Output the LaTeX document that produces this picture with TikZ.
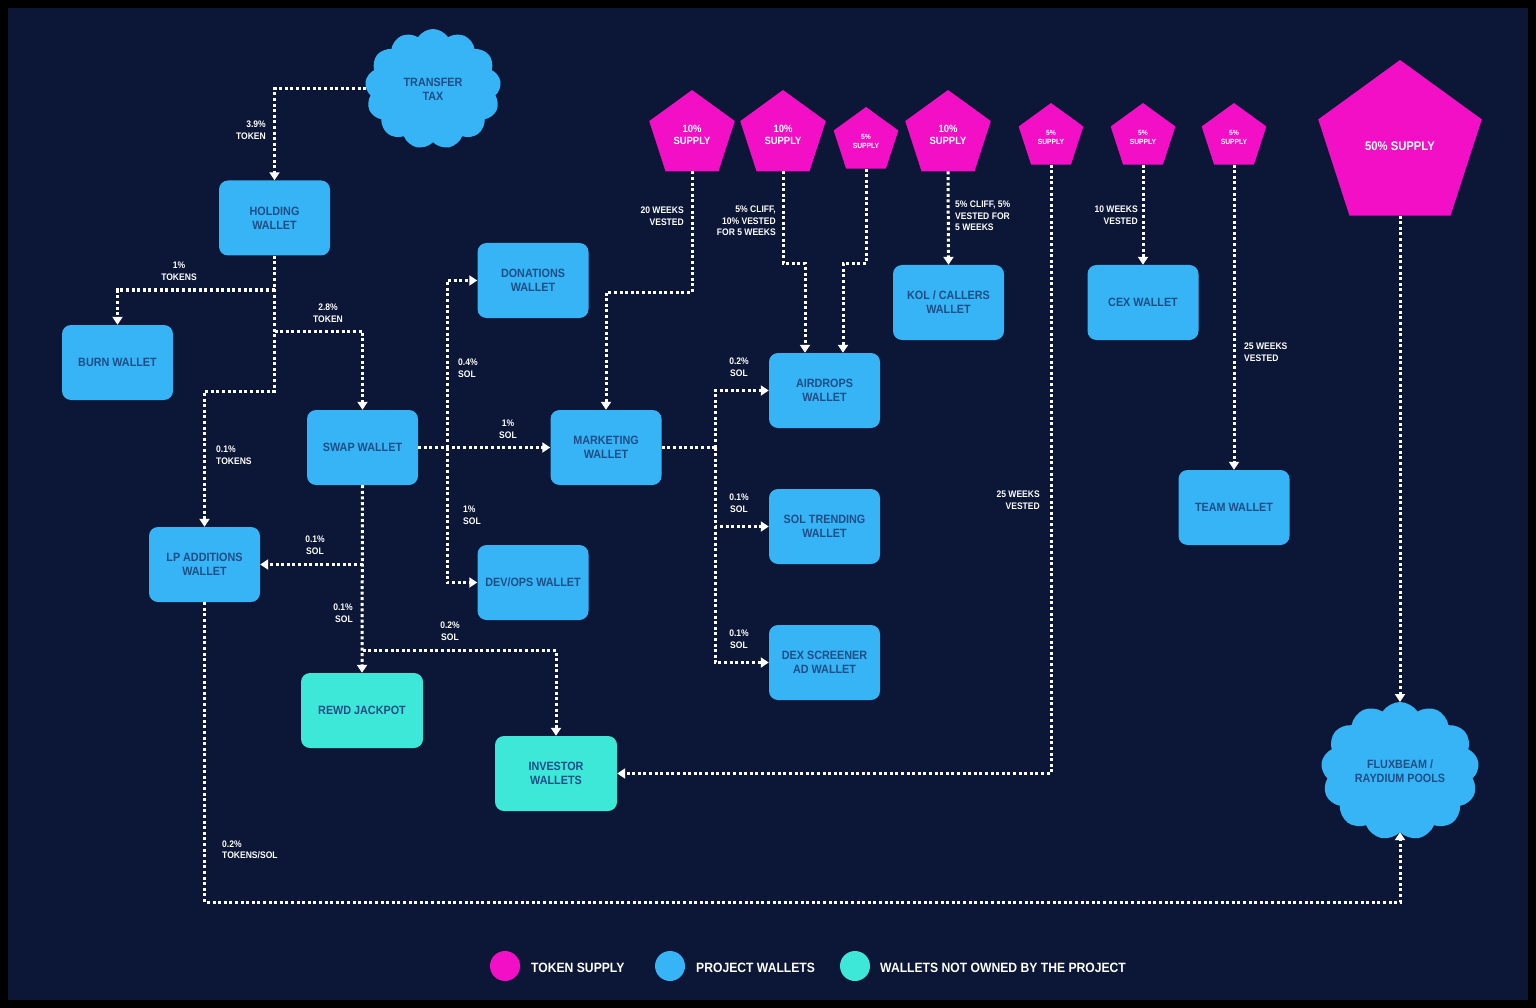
\documentclass[tikz,border=0pt]{standalone}
\usepackage{fontspec}
\usetikzlibrary{arrows.meta,shapes.geometric,shapes.symbols}
\newfontfamily\cf[FakeStretch=0.9]{Liberation Sans Bold}
\definecolor{bgnavy}{HTML}{0C1636}
\definecolor{pblue}{HTML}{36B4F6}
\definecolor{pteal}{HTML}{3DE8D9}
\definecolor{ppink}{HTML}{F20FC6}
\definecolor{boxtxt}{HTML}{1E4E86}
\tikzset{
  wallet/.style={rectangle, rounded corners=9pt, fill=pblue, minimum width=111pt, minimum height=75pt, inner sep=0pt, text=boxtxt, align=center, font=\cf\fontsize{12}{14}\selectfont},
  extwallet/.style={wallet, fill=pteal, minimum width=122pt},
  supply/.style={regular polygon, regular polygon sides=5, fill=ppink, inner sep=0pt, outer sep=0pt, text=white, align=center, font=\cf\fontsize{10.5}{12}\selectfont},
  smallsupply/.style={supply, font=\cf\fontsize{7.5}{9}\selectfont},
  pool/.style={cloud, cloud puffs=13, cloud puff arc=115, cloud ignores aspect, fill=pblue, inner sep=0pt, outer sep=0pt, text=boxtxt, align=center, font=\cf\fontsize{12}{14}\selectfont},
  flowline/.style={draw=white, line width=3pt, dash pattern=on 3pt off 2.6pt},
  flow/.style={flowline, -{Triangle[width=10pt,length=8pt]}},
  lbl/.style={text=white, inner sep=0pt, font=\cf\fontsize{9.5}{11.5}\selectfont},
  legdot/.style={circle, minimum size=30pt, inner sep=0pt},
  legtxt/.style={text=white, anchor=west, inner sep=0pt, font=\cf\fontsize{13.5}{15}\selectfont},
}
\begin{document}
\begin{tikzpicture}[x=1pt,y=-1pt]
\useasboundingbox (0,0) rectangle (1536,1008);
\fill[black] (0,0) rectangle (1536,1008);
\fill[bgnavy] (8,8) rectangle (1528,1000);

% supply pentagons
\node[supply, minimum size=90pt] (p1) at (692,135) {10\%\\SUPPLY};
\node[supply, minimum size=90pt] (p2) at (783,135) {10\%\\SUPPLY};
\node[smallsupply, minimum size=68pt] (p3) at (866,141) {5\%\\SUPPLY};
\node[supply, minimum size=90pt] (p4) at (948,135) {10\%\\SUPPLY};
\node[smallsupply, minimum size=68pt] (p5) at (1051,137) {5\%\\SUPPLY};
\node[smallsupply, minimum size=68pt] (p6) at (1143,137) {5\%\\SUPPLY};
\node[smallsupply, minimum size=68pt] (p7) at (1234,137) {5\%\\SUPPLY};
\node[supply, minimum size=172pt, font=\cf\fontsize{12.5}{14}\selectfont] (p8) at (1400,146) {50\% SUPPLY};

% clouds
\node[pool, minimum width=136pt, minimum height=120pt] (tt) at (433,89) {TRANSFER\\TAX};
\node[pool, minimum width=158pt, minimum height=138pt] (fb) at (1400,771) {FLUXBEAM /\\RAYDIUM POOLS};

% wallets
\node[wallet] (hold) at (274.5,218) {HOLDING\\WALLET};
\node[wallet] (burn) at (117.5,362.5) {BURN WALLET};
\node[wallet] (don) at (533,280.5) {DONATIONS\\WALLET};
\node[wallet] (swap) at (362.5,447.5) {SWAP WALLET};
\node[wallet] (mkt) at (606,447.5) {MARKETING\\WALLET};
\node[wallet] (lp) at (204.5,564.5) {LP ADDITIONS\\WALLET};
\node[wallet] (dev) at (533,582.5) {DEV/OPS WALLET};
\node[extwallet] (rewd) at (362,710.5) {REWD JACKPOT};
\node[extwallet] (inv) at (556,773.5) {INVESTOR\\WALLETS};
\node[wallet] (air) at (824.5,390.5) {AIRDROPS\\WALLET};
\node[wallet] (sol) at (824.5,526.5) {SOL TRENDING\\WALLET};
\node[wallet] (dex) at (824.5,662.5) {DEX SCREENER\\AD WALLET};
\node[wallet] (kol) at (948.5,302.5) {KOL / CALLERS\\WALLET};
\node[wallet] (cex) at (1143,302.5) {CEX WALLET};
\node[wallet] (team) at (1234,507.5) {TEAM WALLET};

% junctions
\coordinate (j1) at (274.5,290);
\coordinate (j2) at (274.5,331);
\coordinate (j3) at (274.5,391);
\coordinate (j4) at (447,447.5);
\coordinate (j5) at (362.5,564.5);
\coordinate (j6) at (362.5,650);
\coordinate (j7) at (715,447.5);

% connectors
\draw[flow] (tt.west) -| (hold.north);
\draw[flow] (hold.south) -- (j3) -| (lp.north);
\draw[flow] (j1) -| (burn.north);
\draw[flow] (j2) -| (swap.north);
\draw[flow] (swap.east) -- (mkt.west);
\draw[flow] (j4) |- (don.west);
\draw[flow] (j4) |- (dev.west);
\draw[flow] (swap.south) -- (rewd.north);
\draw[flow] (j5) -- (lp.east);
\draw[flow] (j6) -| (inv.north);
\draw[flowline] (mkt.east) -- (j7);
\draw[flow] (j7) |- (air.west);
\draw[flow] (j7) |- (sol.west);
\draw[flow] (j7) |- (dex.west);
\draw[flow] (p1.south) -- ++(0,121) -| (mkt.north);
\draw[flow] (p2.south) -- ++(0,92) -| ([xshift=-19.5pt]air.north);
\draw[flow] (p3.south) -- ++(0,95) -| ([xshift=18.5pt]air.north);
\draw[flow] (p4.south) -- (kol.north);
\draw[flow] (p5.south) |- (inv.east);
\draw[flow] (p6.south) -- (cex.north);
\draw[flow] (p7.south) -- (team.north);
\draw[flow] (p8.south) -- (fb.north);
\draw[flow] (lp.south) -- ++(0,300) -| (fb.south);

% labels
\node[lbl, anchor=east, align=right] (l1) at (266,130) {3.9\%\\TOKEN};
\node[lbl, align=center] (l2) at (179,271) {1\%\\TOKENS};
\node[lbl, align=center] (l3) at (328,313) {2.8\%\\TOKEN};
\node[lbl, anchor=west, align=left] (l4) at (216,455) {0.1\%\\TOKENS};
\node[lbl, align=center] (l5) at (508,429) {1\%\\SOL};
\node[lbl, anchor=west, align=left] (l6) at (458,368) {0.4\%\\SOL};
\node[lbl, anchor=west, align=left] (l7) at (463,515) {1\%\\SOL};
\node[lbl, align=center] (l8) at (315,545) {0.1\%\\SOL};
\node[lbl, anchor=east, align=right] (l9) at (353,613) {0.1\%\\SOL};
\node[lbl, align=center] (l10) at (450,631) {0.2\%\\SOL};
\node[lbl, align=center] (l11) at (739,367) {0.2\%\\SOL};
\node[lbl, align=center] (l12) at (739,503) {0.1\%\\SOL};
\node[lbl, align=center] (l13) at (739,639) {0.1\%\\SOL};
\node[lbl, anchor=east, align=right] (l14) at (684,216) {20 WEEKS\\VESTED};
\node[lbl, anchor=east, align=right] (l15) at (776,221) {5\% CLIFF,\\10\% VESTED\\FOR 5 WEEKS};
\node[lbl, anchor=west, align=left] (l16) at (955,216) {5\% CLIFF, 5\%\\VESTED FOR\\5 WEEKS};
\node[lbl, anchor=east, align=right] (l17) at (1040,500) {25 WEEKS\\VESTED};
\node[lbl, anchor=east, align=right] (l18) at (1138,215) {10 WEEKS\\VESTED};
\node[lbl, anchor=west, align=left] (l19) at (1244,352) {25 WEEKS\\VESTED};
\node[lbl, anchor=west, align=left] (l20) at (222,850) {0.2\%\\TOKENS/SOL};

% legend
\node[legdot, fill=ppink] (d1) at (505,966) {};
\node[legtxt] (t1) at (531,968) {TOKEN SUPPLY};
\node[legdot, fill=pblue] (d2) at (670,966) {};
\node[legtxt] (t2) at (696,968) {PROJECT WALLETS};
\node[legdot, fill=pteal] (d3) at (855,966) {};
\node[legtxt] (t3) at (880,968) {WALLETS NOT OWNED BY THE PROJECT};
\end{tikzpicture}
\end{document}
